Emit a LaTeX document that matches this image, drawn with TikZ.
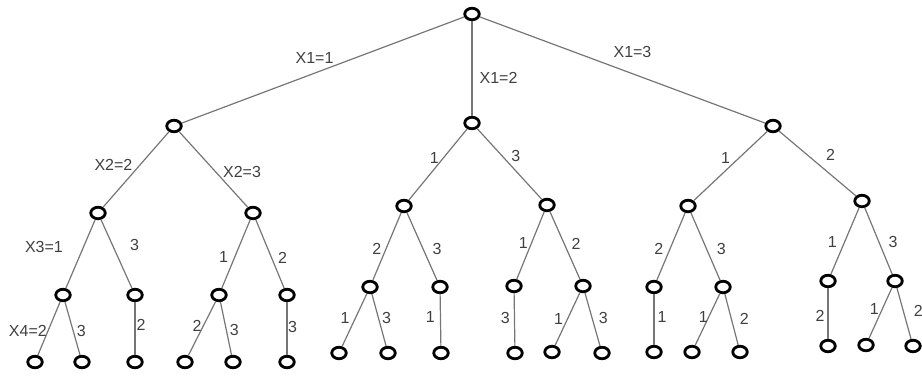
\documentclass[tikz,border=0pt]{standalone}
\usepackage{fontspec}
\setmainfont{Liberation Sans}
\usepackage{xcolor}
\usepackage{tikz}
\usetikzlibrary{shapes.geometric,positioning}

\definecolor{edgegray}{HTML}{767676}
\definecolor{labelgray}{HTML}{404040}

\begin{document}
\begin{tikzpicture}[
    x=1pt, y=-1pt,
    vert/.style={ellipse, draw=black, line width=2.8pt, fill=white, inner sep=0pt, minimum width=14.5pt, minimum height=11.5pt},
    lbl/.style={inner sep=0pt, text=labelgray, font=\fontsize{16}{18}\selectfont},
    branch/.style={draw=edgegray, line width=1.2pt}
]
\useasboundingbox (0,0) rectangle (922,380);
\node[vert] (r) at (472,14) {};
\node[vert] (t1) at (174,126) {};
\node[vert] (t2) at (472,123) {};
\node[vert] (t3) at (773,126) {};
\node[vert] (t11) at (98,213) {};
\node[vert] (t12) at (253,213) {};
\node[vert] (t21) at (404,206) {};
\node[vert] (t22) at (547,205) {};
\node[vert] (t31) at (688,206) {};
\node[vert] (t32) at (862,201) {};
\node[vert] (t111) at (63,295) {};
\node[vert] (t112) at (135,295) {};
\node[vert] (t121) at (219,295) {};
\node[vert] (t122) at (287,295) {};
\node[vert] (t211) at (370,287) {};
\node[vert] (t212) at (440,287) {};
\node[vert] (t221) at (514,286) {};
\node[vert] (t222) at (583,286) {};
\node[vert] (t311) at (654,287) {};
\node[vert] (t312) at (723,287) {};
\node[vert] (t321) at (828,281) {};
\node[vert] (t322) at (895,281) {};
\node[vert] (t1111) at (35,362) {};
\node[vert] (t1112) at (82,362) {};
\node[vert] (t1121) at (135,362) {};
\node[vert] (t1211) at (185,362) {};
\node[vert] (t1212) at (233,362) {};
\node[vert] (t1221) at (287,362) {};
\node[vert] (t2111) at (339,353) {};
\node[vert] (t2112) at (388,353) {};
\node[vert] (t2121) at (441,353) {};
\node[vert] (t2211) at (515,353) {};
\node[vert] (t2221) at (552,352) {};
\node[vert] (t2222) at (602,353) {};
\node[vert] (t3111) at (654,352) {};
\node[vert] (t3121) at (692,352) {};
\node[vert] (t3122) at (740,352) {};
\node[vert] (t3211) at (828,346) {};
\node[vert] (t3221) at (866,345) {};
\node[vert] (t3222) at (913,346) {};
\draw[branch] (r) -- node[lbl, pos=.53, above=9pt] {X1=1} (t1);
\draw[branch] (r) -- node[lbl, pos=.6, right=7pt] {X1=2} (t2);
\draw[branch] (r) -- node[lbl, pos=.535, above=15pt] {X1=3} (t3);
\draw[branch] (t1) -- node[lbl, pos=.44, left=7pt] {X2=2} (t11);
\draw[branch] (t1) -- node[lbl, pos=.53, right=7pt] {X2=3} (t12);
\draw[branch] (t2) -- node[lbl, pos=.41, left=4pt] {1} (t21);
\draw[branch] (t2) -- node[lbl, pos=.38, right=9pt] {3} (t22);
\draw[branch] (t3) -- node[lbl, pos=.39, left=8pt] {1} (t31);
\draw[branch] (t3) -- node[lbl, pos=.37, right=18pt] {2} (t32);
\draw[branch] (t11) -- node[lbl, pos=.4, left=20pt] {X3=1} (t111);
\draw[branch] (t11) -- node[lbl, pos=.37, right=17pt] {3} (t112);
\draw[branch] (t12) -- node[lbl, pos=.55, left=6pt] {1} (t121);
\draw[branch] (t12) -- node[lbl, pos=.55, right=6pt] {2} (t122);
\draw[branch] (t21) -- node[lbl, pos=.54, left=4pt] {2} (t211);
\draw[branch] (t21) -- node[lbl, pos=.53, right=9pt] {3} (t212);
\draw[branch] (t22) -- node[lbl, pos=.47, left=3pt] {1} (t221);
\draw[branch] (t22) -- node[lbl, pos=.47, right=7pt] {2} (t222);
\draw[branch] (t31) -- node[lbl, pos=.54, left=6pt] {2} (t311);
\draw[branch] (t31) -- node[lbl, pos=.53, right=10pt] {3} (t312);
\draw[branch] (t32) -- node[lbl, pos=.52, left=7pt] {1} (t321);
\draw[branch] (t32) -- node[lbl, pos=.52, right=9pt] {3} (t322);
\draw[branch] (t111) -- node[lbl, pos=.55, left=0.5pt] {X4=2} (t1111);
\draw[branch] (t111) -- node[lbl, pos=.55, right=3pt] {3} (t1112);
\draw[branch] (t112) -- node[lbl, pos=.43, right=1pt] {2} (t1121);
\draw[branch] (t121) -- node[lbl, pos=.46, left=1pt] {2} (t1211);
\draw[branch] (t121) -- node[lbl, pos=.52, right=3pt] {3} (t1212);
\draw[branch] (t122) -- node[lbl, pos=.48, right=0.5pt] {3} (t1221);
\draw[branch] (t211) -- node[lbl, pos=.47, left=5pt] {1} (t2111);
\draw[branch] (t211) -- node[lbl, pos=.47, right=3pt] {3} (t2112);
\draw[branch] (t212) -- node[lbl, pos=.44, left=5pt] {1} (t2121);
\draw[branch] (t221) -- node[lbl, pos=.48, left=4pt] {3} (t2211);
\draw[branch] (t222) -- node[lbl, pos=.5, left=4pt] {1} (t2221);
\draw[branch] (t222) -- node[lbl, pos=.48, right=6pt] {3} (t2222);
\draw[branch] (t311) -- node[lbl, pos=.46, right=3pt] {1} (t3111);
\draw[branch] (t312) -- node[lbl, pos=.46, left=0pt] {1} (t3121);
\draw[branch] (t312) -- node[lbl, pos=.49, right=8pt] {2} (t3122);
\draw[branch] (t321) -- node[lbl, pos=.54, left=3pt] {2} (t3211);
\draw[branch] (t322) -- node[lbl, pos=.42, left=3pt] {1} (t3221);
\draw[branch] (t322) -- node[lbl, pos=.45, right=10pt] {2} (t3222);
\end{tikzpicture}
\end{document}
